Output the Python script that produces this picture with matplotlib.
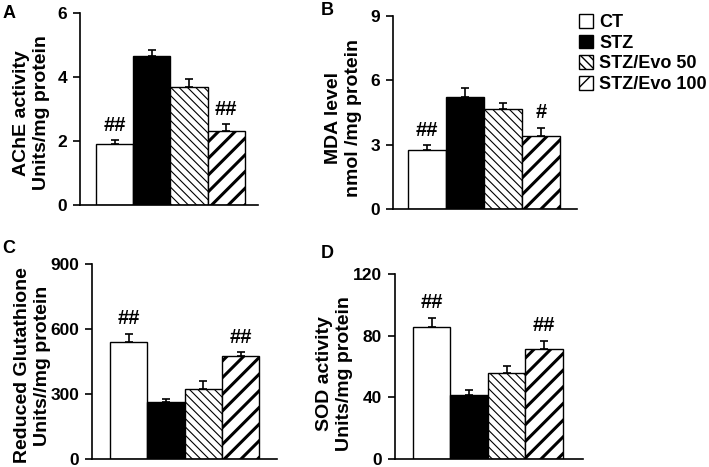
import matplotlib.pyplot as plt

plt.rcParams['font.family'] = ['Liberation Sans', 'DejaVu Sans']
plt.rcParams['font.weight'] = 'bold'
plt.rcParams['axes.labelweight'] = 'bold'

groups = ['CT', 'STZ', 'STZ/Evo 50', 'STZ/Evo 100']

ache = [1.92, 4.67, 3.68, 2.31]
ache_err = [0.11, 0.18, 0.25, 0.21]
mda = [2.77, 5.23, 4.65, 3.40]
mda_err = [0.2, 0.39, 0.3, 0.38]
gsh = [542, 263, 323, 476]
gsh_err = [36, 12, 37, 17]
sod = [85.8, 41.5, 55.6, 71.4]
sod_err = [6.0, 3.2, 4.5, 5.2]

ache_marks = ['##', '', '', '##']
mda_marks = ['##', '', '', '#']
gsh_marks = ['##', '', '', '##']
sod_marks = ['##', '', '', '##']

fills = ['white', 'black', 'white', 'white']
hatches = [None, None, '\\\\\\\\', '//']
hatch_lw = [1, 1, 0.8, 2.2]


def panel(fig, rect, vals, errs, marks, ymax, step, ylabel, label_xy, letter, xlim, letter_pos):
    ax = fig.add_axes(rect)
    x = range(len(vals))
    for i in x:
        with plt.rc_context({'hatch.linewidth': hatch_lw[i]}):
            b = ax.bar(i, vals[i], width=1.0, color=fills[i], edgecolor='black',
                       linewidth=1, hatch=hatches[i], zorder=2)
        for p in b:
            if hasattr(p, 'set_hatch_linewidth'):
                p.set_hatch_linewidth(hatch_lw[i])
    ax.errorbar(list(x), vals, yerr=[[0] * len(vals), errs], fmt='none',
                ecolor='black', elinewidth=1.2, capsize=3, capthick=1.2, zorder=1)
    for i in x:
        if marks[i]:
            ax.annotate(marks[i], (i, vals[i] + errs[i]), xytext=(0, 4),
                        textcoords='offset points', ha='center', va='bottom',
                        fontsize=14.5, fontweight='bold')
    ax.set_xlim(*xlim)
    ax.set_ylim(0, ymax)
    ax.set_yticks([step * k for k in range(int(ymax / step) + 1)])
    ax.set_xticks([])
    ax.spines['top'].set_visible(False)
    ax.spines['right'].set_visible(False)
    ax.spines['left'].set_linewidth(1.2)
    ax.spines['bottom'].set_linewidth(1.2)
    ax.tick_params(axis='y', direction='out', length=5, width=1.2, pad=4.3,
                   labelsize=12.5)
    for t in ax.get_yticklabels():
        t.set_fontweight('bold')
    ax.set_ylabel(ylabel, fontsize=14, fontweight='bold', linespacing=1.2)
    ax.yaxis.set_label_coords(*label_xy)
    fig.text(letter_pos[0], letter_pos[1], letter, fontsize=13, fontweight='bold',
             ha='left', va='top')
    return ax


fig = plt.figure(figsize=(7.09, 4.67), dpi=100)

axA = panel(fig, [0.1128, 0.561, 0.251, 0.411], ache, ache_err, ache_marks, 6, 2,
            'AChE activity\nUnits/mg protein', (-0.169, 0.48), 'A',
            (-0.93, 3.85), (0.003, 0.99))
axB = panel(fig, [0.554, 0.5525, 0.260, 0.4135], mda, mda_err, mda_marks, 9, 3,
            'MDA level\nnmol /mg protein', (-0.168, 0.473), 'B',
            (-0.895, 3.95), (0.453, 0.996))
axC = panel(fig, [0.130, 0.0178, 0.261, 0.416], gsh, gsh_err, gsh_marks, 900, 300,
            'Reduced Glutathione\nUnits//mg protein', (-0.222, 0.48), 'C',
            (-0.98, 3.98), (0.003, 0.487))
axD = panel(fig, [0.557, 0.0178, 0.265, 0.395], sod, sod_err, sod_marks, 120, 40,
            'SOD activity\nUnits/mg protein', (-0.223, 0.46), 'D',
            (-0.98, 4.03), (0.453, 0.476))

handles = []
for i in range(len(groups)):
    with plt.rc_context({'hatch.linewidth': hatch_lw[i]}):
        h = plt.Rectangle((0, 0), 1, 1, facecolor=fills[i], edgecolor='black',
                          linewidth=1, hatch=hatches[i])
    if hasattr(h, 'set_hatch_linewidth'):
        h.set_hatch_linewidth(hatch_lw[i])
    handles.append(h)
fig.legend(handles, groups, loc='upper left', bbox_to_anchor=(0.8166, 0.970),
           frameon=False, fontsize=13, handlelength=0.78, handleheight=0.78,
           handletextpad=0.33, labelspacing=0.2, borderpad=0, borderaxespad=0)

fig.savefig('out.png', dpi=100)
